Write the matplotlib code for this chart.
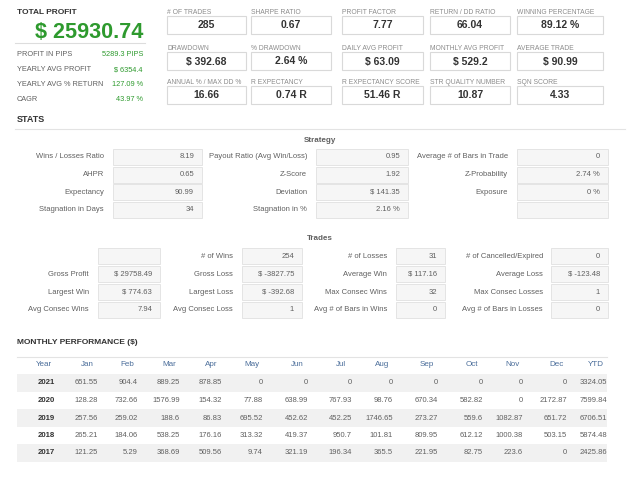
import matplotlib
matplotlib.use('Agg')
import matplotlib.pyplot as plt
from matplotlib.patches import Rectangle

plt.rcParams['font.family'] = ['Liberation Sans', 'DejaVu Sans']

# ---- data ----
total_profit = '$ 25930.74'
left_labels = ['PROFIT IN PIPS', 'YEARLY AVG PROFIT', 'YEARLY AVG % RETURN', 'CAGR']
left_values = ['5289.3 PIPS', '$ 6354.4', '127.09 %', '43.97 %']

kpi_labels = [['# OF TRADES', 'SHARPE RATIO', 'PROFIT FACTOR', 'RETURN / DD RATIO', 'WINNING PERCENTAGE'],
              ['DRAWDOWN', '% DRAWDOWN', 'DAILY AVG PROFIT', 'MONTHLY AVG PROFIT', 'AVERAGE TRADE'],
              ['ANNUAL % / MAX DD %', 'R EXPECTANCY', 'R EXPECTANCY SCORE', 'STR QUALITY NUMBER', 'SQN SCORE']]
kpi_values = [['285', '0.67', '7.77', '66.04', '89.12 %'],
              ['$ 392.68', '2.64 %', '$ 63.09', '$ 529.2', '$ 90.99'],
              ['16.66', '0.74 R', '51.46 R', '10.87', '4.33']]

strategy_labels = [['Wins / Losses Ratio', 'Payout Ratio (Avg Win/Loss)', 'Average # of Bars in Trade'],
                   ['AHPR', 'Z-Score', 'Z-Probability'],
                   ['Expectancy', 'Deviation', 'Exposure'],
                   ['Stagnation in Days', 'Stagnation in %', '']]
strategy_values = [['8.19', '0.95', '0'],
                   ['0.65', '1.92', '2.74 %'],
                   ['90.99', '$ 141.35', '0 %'],
                   ['34', '2.16 %', '']]

trades_labels = [['', '# of Wins', '# of Losses', '# of Cancelled/Expired'],
                 ['Gross Profit', 'Gross Loss', 'Average Win', 'Average Loss'],
                 ['Largest Win', 'Largest Loss', 'Max Consec Wins', 'Max Consec Losses'],
                 ['Avg Consec Wins', 'Avg Consec Loss', 'Avg # of Bars in Wins', 'Avg # of Bars in Losses']]
trades_values = [['', '254', '31', '0'],
                 ['$ 29758.49', '$ -3827.75', '$ 117.16', '$ -123.48'],
                 ['$ 774.63', '$ -392.68', '32', '1'],
                 ['7.94', '1', '0', '0']]

months = ['Year', 'Jan', 'Feb', 'Mar', 'Apr', 'May', 'Jun', 'Jul', 'Aug', 'Sep', 'Oct', 'Nov', 'Dec', 'YTD']
years = ['2021', '2020', '2019', '2018', '2017']
monthly = [['651.55', '904.4', '889.25', '878.85', '0', '0', '0', '0', '0', '0', '0', '0', '3324.05'],
           ['128.28', '732.66', '1576.99', '154.32', '77.88', '638.99', '767.93', '98.76', '670.34', '582.82', '0', '2172.87', '7599.84'],
           ['257.56', '259.02', '188.6', '86.83', '695.52', '452.62', '452.25', '1746.65', '273.27', '559.6', '1082.87', '651.72', '6706.51'],
           ['265.21', '184.06', '538.25', '176.16', '313.32', '419.37', '950.7', '101.81', '809.95', '612.12', '1000.38', '503.15', '5874.48'],
           ['121.25', '5.29', '368.69', '509.56', '9.74', '321.19', '196.34', '365.5', '221.95', '82.75', '223.6', '0', '2425.86']]

GREEN = '#2e9a2e'
DARK = '#333333'
GRAY = '#606060'
LIGHT = '#8c8c8c'
BLUE = '#4a6d9a'

fig = plt.figure(figsize=(6.4, 4.8), dpi=100)
ax = fig.add_axes([0, 0, 1, 1])
ax.set_xlim(0, 640)
ax.set_ylim(480, 0)
ax.axis('off')

# ---- total profit block ----
ax.text(17, 13, 'TOTAL PROFIT', fontsize=6, fontweight='bold', color=DARK, va='center')
ax.text(143, 32, total_profit, fontsize=15.6, fontweight='bold', color=GREEN, va='center', ha='right')
ax.plot([15, 145], [43, 43], color='#dddddd', lw=0.8)
for i, (lab, val) in enumerate(zip(left_labels, left_values)):
    y = 55 + i * 14.7
    ax.text(17, y, lab, fontsize=5.3, color=GRAY, va='center')
    ax.text(143, y, val, fontsize=5.3, color=GREEN, va='center', ha='right')

# ---- KPI boxes ----
kx = [167, 251, 342, 430, 517]
kw = [79, 80, 81, 80, 86]
ky = [16, 52, 86]
for r in range(3):
    for c in range(5):
        ax.text(kx[c], ky[r] - 4, kpi_labels[r][c], fontsize=4.9, color=LIGHT, va='center')
        ax.add_patch(Rectangle((kx[c], ky[r]), kw[c], 18, fc='white', ec='#d9d9d9', lw=0.8))
        ax.text(kx[c] + kw[c] / 2, ky[r] + 9.5, kpi_values[r][c], fontsize=7.5, fontweight='bold',
                color=DARK, va='center', ha='center')

# ---- stats ----
ax.text(17, 119, 'STATS', fontsize=6.5, fontweight='bold', color=DARK, va='center')
ax.plot([15, 625], [129, 129], color='#e3e3e3', lw=0.8)


def grid_block(title, ty, labels, values, lab_right, box_left, box_right, rows_y):
    ax.text(320, ty, title, fontsize=5.8, fontweight='bold', color=GRAY, va='center', ha='center')
    for r, y in enumerate(rows_y):
        for c in range(len(lab_right)):
            if labels[r][c]:
                ax.text(lab_right[c], y, labels[r][c], fontsize=5.5, color=GRAY, va='center', ha='right')
            ax.add_patch(Rectangle((box_left[c], y - 8), box_right[c] - box_left[c], 16,
                                   fc='#f6f6f6', ec='#e4e4e4', lw=0.7))
            ax.text(box_right[c] - 8, y, values[r][c], fontsize=5.5, color=GRAY, va='center', ha='right')


grid_block('Strategy', 140, strategy_labels, strategy_values,
           [104, 307, 508], [113, 316, 517], [202, 408, 608], [157, 174.5, 192, 209.5])
grid_block('Trades', 239, trades_labels, trades_values,
           [89, 233, 387, 543], [98, 242, 396, 551], [160, 302, 445, 608], [256, 274, 292, 309.5])

# ---- monthly performance ----
ax.text(17, 343, 'MONTHLY PERFORMANCE ($)', fontsize=6.0, fontweight='bold', color=DARK, va='center')
ax.plot([17, 607], [357, 357], color='#e3e3e3', lw=0.8)
col_right = [55, 98, 138, 180, 222, 263, 308, 352, 393, 438, 483, 523, 567, 607]
for c, m in enumerate(months):
    ax.text(col_right[c] - 11, 364, m, fontsize=5.8, color=BLUE, va='center', ha='center')
row_y = [382.5, 400, 418, 435.5, 453]
for r, yr in enumerate(years):
    if r % 2 == 0:
        ax.add_patch(Rectangle((17, row_y[r] - 9), 590, 18, fc='#f1f1f1', ec='none'))
    ax.text(col_right[0], row_y[r], yr, fontsize=5.6, fontweight='bold', color=DARK, va='center', ha='right')
    for c, v in enumerate(monthly[r]):
        ax.text(col_right[c + 1], row_y[r], v, fontsize=5.5, color=GRAY, va='center', ha='right')

fig.savefig('out.png', dpi=100, facecolor='white')
